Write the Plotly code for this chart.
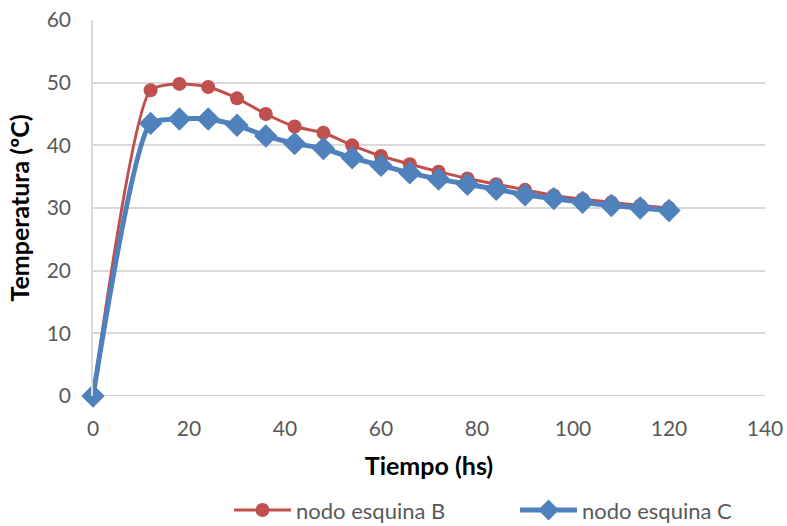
import plotly.graph_objects as go

tiempo = [0, 12, 18, 24, 30, 36, 42, 48, 54, 60, 66, 72, 78, 84, 90, 96, 102, 108, 114, 120]
nodo_b = [0, 48.8, 49.8, 49.3, 47.5, 45.0, 43.0, 42.0, 40.0, 38.3, 37.0, 35.8, 34.7, 33.8, 32.9, 32.0, 31.4, 30.9, 30.4, 30.0]
nodo_c = [0, 43.5, 44.2, 44.2, 43.2, 41.5, 40.3, 39.5, 38.0, 36.8, 35.6, 34.6, 33.8, 33.0, 32.1, 31.5, 30.9, 30.4, 30.0, 29.6]

x_ticks = [0, 20, 40, 60, 80, 100, 120, 140]
y_ticks = [0, 10, 20, 30, 40, 50, 60]

fig = go.Figure()
fig.add_trace(go.Scatter(
    x=tiempo, y=nodo_b, name="nodo esquina B", mode="lines+markers", cliponaxis=False,
    line=dict(color="#C0504D", width=3, shape="spline", smoothing=0.6),
    marker=dict(symbol="circle", size=14, color="#C0504D"),
))
fig.add_trace(go.Scatter(
    x=tiempo, y=nodo_c, name="nodo esquina C", mode="lines+markers", cliponaxis=False,
    line=dict(color="#4F81BD", width=5, shape="spline", smoothing=0.6),
    marker=dict(symbol="diamond", size=18, color="#4F81BD"),
))

fig.update_layout(
    width=787, height=526,
    margin=dict(l=93, r=22, t=20, b=130),
    paper_bgcolor="white", plot_bgcolor="white",
    font=dict(family="Lato, Open Sans, sans-serif", color="#595959", size=21),
    showlegend=True,
    legend=dict(orientation="h", xref="container", yref="container",
                x=0.291, xanchor="left", y=0.03, yanchor="middle",
                font=dict(size=22, color="#595959"), entrywidth=214, itemwidth=57),
    xaxis=dict(range=[0, 140], tickvals=x_ticks, showgrid=False, zeroline=False, automargin=False,
               showline=False, ticks="", ticklen=0, ticklabelstandoff=18,
               title=dict(text="<b>Tiempo (hs)</b>", font=dict(size=25, color="black"), standoff=18)),
    yaxis=dict(range=[0, 60], tickvals=y_ticks, showgrid=True, gridcolor="#D9D9D9", gridwidth=1.5,
               automargin=False, ticklabelstandoff=16,
               zeroline=False, showline=True, linecolor="#D9D9D9", linewidth=1.5, ticks="",
               title=dict(text="<b>Temperatura (ºC)</b>", font=dict(size=25, color="black"), standoff=10)),
)
fig.add_shape(type="line", xref="paper", yref="y", x0=0, x1=1, y0=0, y1=0,
              line=dict(color="#BFBFBF", width=1.5), layer="below")

fig.write_html("out.html")
